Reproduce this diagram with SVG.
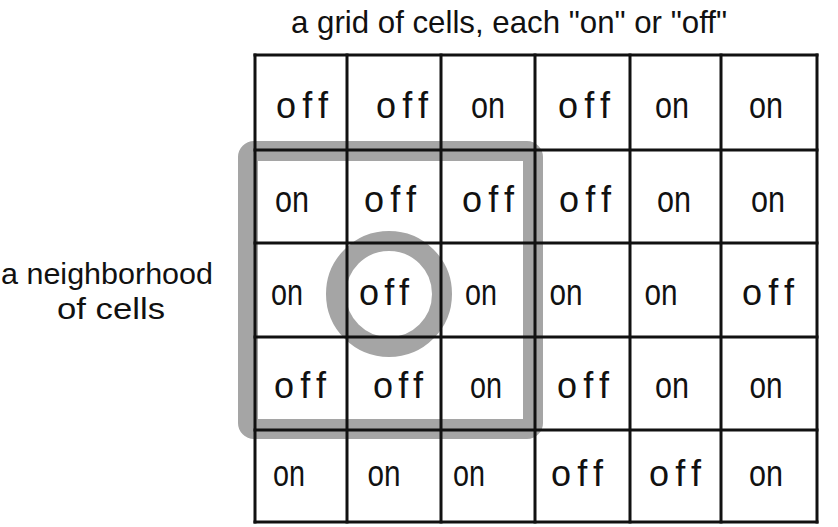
<svg xmlns="http://www.w3.org/2000/svg" width="838" height="527" viewBox="0 0 838 527">
<style>
.hl{fill:none;stroke:#a5a5a5;stroke-width:20}
.gl{stroke:#111;stroke-width:3;fill:none;stroke-linecap:square}
.t{font-family:"Liberation Sans","DejaVu Sans",sans-serif;font-size:36px;fill:#111;text-anchor:middle}
.lbl{font-family:"Liberation Sans","DejaVu Sans",sans-serif;font-size:32px;fill:#111}
.sl{font-family:"Liberation Sans","DejaVu Sans",sans-serif;font-size:30px;fill:#111}
</style>
<rect width="838" height="527" fill="#fff"/>
<g id="neighborhood">
<rect class="hl" x="248" y="151" width="285" height="278" rx="6"/>
<ellipse class="hl" cx="389" cy="294" rx="53" ry="53"/>
</g>
<g id="grid">
<path class="gl" d="M255 55H817M255 150H817M255 243H817M255 337H817M255 430H817M255 522H817"/>
<path class="gl" d="M255 55V522M347 55V522M441 55V522M535 55V522M630 55V522M721 55V522M817 55V522"/>
</g>
<g id="cells">
<g id="r1"><text class="t" x="302" y="118" textLength="52" lengthAdjust="spacing">off</text><text class="t" x="402" y="118" textLength="52" lengthAdjust="spacing">off</text><text class="t" x="488" y="118" textLength="34" lengthAdjust="spacingAndGlyphs">on</text><text class="t" x="584" y="118" textLength="52" lengthAdjust="spacing">off</text><text class="t" x="672" y="118" textLength="34" lengthAdjust="spacingAndGlyphs">on</text><text class="t" x="766" y="118" textLength="34" lengthAdjust="spacingAndGlyphs">on</text></g>
<g id="r2"><text class="t" x="292" y="212" textLength="34" lengthAdjust="spacingAndGlyphs">on</text><text class="t" x="390" y="212" textLength="52" lengthAdjust="spacing">off</text><text class="t" x="488" y="212" textLength="52" lengthAdjust="spacing">off</text><text class="t" x="585" y="212" textLength="52" lengthAdjust="spacing">off</text><text class="t" x="674" y="212" textLength="34" lengthAdjust="spacingAndGlyphs">on</text><text class="t" x="768" y="212" textLength="34" lengthAdjust="spacingAndGlyphs">on</text></g>
<g id="r3"><text class="t" x="287" y="305" textLength="32" lengthAdjust="spacingAndGlyphs">on</text><text class="t" x="384" y="305" textLength="50" lengthAdjust="spacing">off</text><text class="t" x="481" y="305" textLength="32" lengthAdjust="spacingAndGlyphs">on</text><text class="t" x="566" y="305" textLength="33" lengthAdjust="spacingAndGlyphs">on</text><text class="t" x="661" y="305" textLength="33" lengthAdjust="spacingAndGlyphs">on</text><text class="t" x="768" y="305" textLength="52" lengthAdjust="spacing">off</text></g>
<g id="r4"><text class="t" x="300" y="398" textLength="52" lengthAdjust="spacing">off</text><text class="t" x="398" y="398" textLength="50" lengthAdjust="spacing">off</text><text class="t" x="486" y="398" textLength="32" lengthAdjust="spacingAndGlyphs">on</text><text class="t" x="583" y="398" textLength="52" lengthAdjust="spacing">off</text><text class="t" x="672" y="398" textLength="34" lengthAdjust="spacingAndGlyphs">on</text><text class="t" x="766" y="398" textLength="33" lengthAdjust="spacingAndGlyphs">on</text></g>
<g id="r5"><text class="t" x="289" y="486" textLength="32" lengthAdjust="spacingAndGlyphs">on</text><text class="t" x="384" y="486" textLength="33" lengthAdjust="spacingAndGlyphs">on</text><text class="t" x="469" y="486" textLength="32" lengthAdjust="spacingAndGlyphs">on</text><text class="t" x="577" y="486" textLength="52" lengthAdjust="spacing">off</text><text class="t" x="675" y="486" textLength="52" lengthAdjust="spacing">off</text><text class="t" x="766" y="486" textLength="34" lengthAdjust="spacingAndGlyphs">on</text></g>
</g>
<g id="title"><text class="lbl" x="291" y="33" textLength="436" lengthAdjust="spacingAndGlyphs">a grid of cells, each "on" or "off"</text></g>
<g id="side-label"><text class="sl" x="1" y="284" textLength="212" lengthAdjust="spacingAndGlyphs">a neighborhood</text><text class="sl" x="57" y="319" textLength="108" lengthAdjust="spacingAndGlyphs">of cells</text></g>
</svg>
